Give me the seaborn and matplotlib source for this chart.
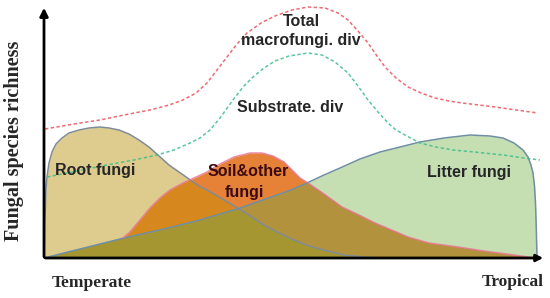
import numpy as np
import pandas as pd
import matplotlib
matplotlib.use("Agg")
import matplotlib.pyplot as plt
from matplotlib.patches import Polygon
import seaborn as sns

# ── Data (x = position along the gradient) ──
root_x = np.array([0, 1, 2, 3, 5, 8, 12, 18, 25, 35, 45, 56, 65, 75, 85, 95,
                   105, 115, 125, 135, 145, 155, 165, 175, 190, 205, 220, 235,
                   250, 265, 280, 300, 320, 340])
root_y = np.array([0, 40, 70, 81, 95, 106, 114, 120, 125, 128, 130, 131, 130,
                   128, 124, 118, 111, 102, 93, 86, 79, 72, 67, 61, 52, 43, 33,
                   25, 18, 12, 8, 3, 1, 0])

litter_x = np.array([0, 40, 80, 120, 156, 176, 196, 213, 230, 247, 263, 280,
                     296, 316, 336, 356, 376, 400, 426, 446, 459, 470, 479,
                     484, 487, 489, 490.5, 491.5, 492.3, 493])
litter_y = np.array([0, 10, 20, 29, 38, 44, 50, 56, 62, 68, 75, 83, 90, 99,
                     106, 111, 116, 120, 123, 122, 120, 115, 108, 101, 93, 85,
                     72, 55, 30, 0])

soil_x = np.array([0, 40, 79, 86, 96, 106, 116, 126, 139, 150, 163, 176, 190,
                   206, 218, 229, 240, 248, 256, 264, 280, 298, 315, 331, 350,
                   364, 385, 414, 440, 470, 491])
soil_y = np.array([0, 10, 20, 26, 38, 50, 60, 68, 75, 80, 86, 94, 101, 105,
                   105, 102, 96, 88, 80, 75, 64, 51, 43, 35, 27, 21, 15, 11, 7,
                   3, 0])

total_x = np.array([1, 30, 56, 80, 106, 125, 139, 152, 163, 173, 183, 193, 203,
                    217, 231, 248, 264, 281, 294, 304, 314, 324, 333, 341, 352,
                    364, 377, 391, 405, 418, 435, 451, 472, 494])
total_y = np.array([129, 134, 138, 143, 148, 153, 158, 165, 175, 188, 201, 214,
                    225, 235, 242, 248, 251, 250, 245, 238, 227, 215, 202, 191,
                    180, 171, 165, 160, 157, 155, 153, 151, 148, 145])

substrate_x = np.array([3, 33, 63, 90, 113, 130, 146, 156, 166, 176, 189, 199,
                        209, 220, 231, 245, 264, 278, 291, 304, 314, 324, 334,
                        344, 352, 361, 376, 392, 409, 430, 459, 480, 496])
substrate_y = np.array([81, 87, 93, 98, 103, 108, 115, 120, 128, 140, 158, 171,
                        181, 190, 197, 202, 205, 203, 196, 185, 172, 158, 146,
                        135, 128, 123, 115, 111, 108, 106, 103, 100, 98])

# ── Figure ──
sns.set_style("white")
fig = plt.figure(figsize=(5.5, 2.98), dpi=100)
ax = fig.add_axes([0, 0, 1, 1])
ax.set_xlim(-44, 506)
ax.set_ylim(-40, 258)

tan, green, orange = "#DECB8E", "#C5DEB2", "#E68237"
dark_orange, brown, olive = "#D6871E", "#B2923C", "#A59632"


def shape(xs, ys):
    pts = np.column_stack([np.r_[xs, xs[::-1]], np.r_[ys, np.zeros(len(ys))]])
    return Polygon(pts, closed=True, transform=ax.transData)


root_poly = shape(root_x, root_y)
litter_poly = shape(litter_x, litter_y)

ax.fill_between(root_x, 0, root_y, color=tan, lw=0, zorder=1)
ax.fill_between(litter_x, 0, litter_y, color=green, lw=0, zorder=1)
ax.fill_between(soil_x, 0, soil_y, color=orange, lw=0, zorder=2)

# overlaps: soil under root, soil under litter, root under litter
ov = ax.fill_between(soil_x, 0, soil_y, color=dark_orange, lw=0, zorder=3)
ov.set_clip_path(root_poly)
ov = ax.fill_between(soil_x, 0, soil_y, color=brown, lw=0, zorder=4)
ov.set_clip_path(litter_poly)
ov = ax.fill_between(root_x, 0, root_y, color=olive, lw=0, zorder=5)
ov.set_clip_path(litter_poly)

ax.plot(root_x, root_y, color="#7F8C98", lw=1.1, zorder=6)
ax.plot(litter_x, litter_y, color="#6F8FA3", lw=1.1, zorder=6)
ax.plot(soil_x[2:], soil_y[2:], color="#E87090", lw=1.1, zorder=6, alpha=0.8)

df_total = pd.DataFrame({"x": total_x, "y": total_y})
df_sub = pd.DataFrame({"x": substrate_x, "y": substrate_y})
sns.lineplot(data=df_total, x="x", y="y", ax=ax, color="#F06A72",
             lw=1.1, linestyle=(0, (2.2, 1.6)), zorder=7)
sns.lineplot(data=df_sub, x="x", y="y", ax=ax, color="#3DBE8A",
             lw=1.1, linestyle=(0, (2.2, 1.6)), zorder=7, alpha=0.85)
ax.set_xlim(-44, 506)
ax.set_ylim(-40, 258)
ax.set_axis_off()

# axis arrows
ax.annotate("", xy=(0, 253), xytext=(0, -1.5),
            arrowprops=dict(arrowstyle="-|>", color="black", lw=2,
                            mutation_scale=12), zorder=8)
ax.annotate("", xy=(502, 0), xytext=(-1.5, 0),
            arrowprops=dict(arrowstyle="-|>", color="black", lw=2,
                            mutation_scale=10), zorder=8)

sans = dict(family="Liberation Sans", fontweight="bold", fontsize=11.5,
            zorder=9)
ax.text(257, 236, "Total", ha="center", va="center", **sans)
ax.text(257, 217, "macrofungi. div", ha="center", va="center", **sans)
ax.text(246, 151, "Substrate. div", ha="center", va="center", **sans)
ax.text(11, 87, "Root fungi", ha="left", va="center", **sans)
ax.text(204, 86, "Soil&other", ha="center", va="center",
        color="#3C0A12", **sans)
ax.text(200, 66, "fungi", ha="center", va="center", color="#3C0A12", **sans)
ax.text(425, 86, "Litter fungi", ha="center", va="center", **sans)

serif = dict(family="Liberation Serif", fontweight="bold")
ax.text(48, -25, "Temperate", ha="center", va="center", fontsize=12.5, **serif)
ax.text(469, -24, "Tropical", ha="center", va="center", fontsize=12.5, **serif)
ax.text(-30, 117, "Fungal species richness", ha="center", va="center",
        rotation=90, fontsize=14.5, **serif)

plt.savefig("out.png", dpi=100)
